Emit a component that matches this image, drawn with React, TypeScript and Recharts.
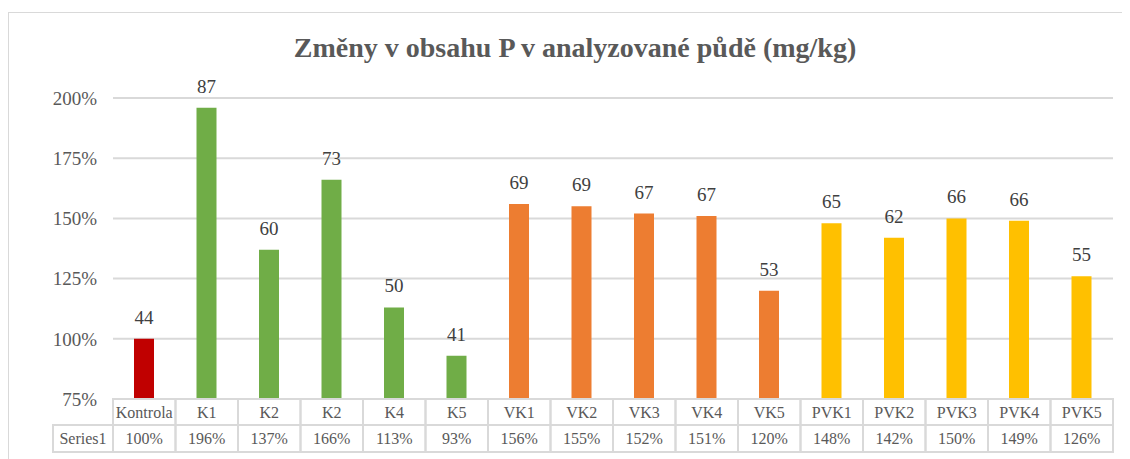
import { BarChart, Bar, XAxis, YAxis, CartesianGrid, Cell, LabelList } from 'recharts';

const categories = ['Kontrola', 'K1', 'K2', 'K2', 'K4', 'K5', 'VK1', 'VK2', 'VK3', 'VK4', 'VK5', 'PVK1', 'PVK2', 'PVK3', 'PVK4', 'PVK5'];
// relative change vs. control (%), shown in the table row
const percents = [100, 196, 137, 166, 113, 93, 156, 155, 152, 151, 120, 148, 142, 150, 149, 126];
// P content in mg/kg, shown above the bars
const mgkg = [44, 87, 60, 73, 50, 41, 69, 69, 67, 67, 53, 65, 62, 66, 66, 55];
const yTicks = [75, 100, 125, 150, 175, 200];

const data = categories.map((name, i) => ({ name, pct: percents[i], mg: mgkg[i] }));

const FONT = '"Liberation Serif", "Times New Roman", serif';
const GRID = '#d9d9d9';
const TEXT = '#595959';

const colorFor = (name: string) => {
  if (name === 'Kontrola') return '#c00000';
  if (name.startsWith('PVK')) return '#ffc000';
  if (name.startsWith('VK')) return '#ed7d31';
  return '#70ad47';
};

// table geometry (chart coords)
const PLOT_BOTTOM = 386;
const COL_W = 1000 / categories.length;
const ROW1 = 26;
const ROW2 = 27;
const HEAD_W = 60;

const TableTick = (props: any) => {
  const { x, payload } = props;
  const i = payload.index;
  const left = x - COL_W / 2;
  return (
    <g>
      {i === 0 && (
        <g>
          <rect x={left - HEAD_W} y={PLOT_BOTTOM + ROW1} width={HEAD_W} height={ROW2} fill="none" stroke={GRID} strokeWidth={2} />
          <text x={left - HEAD_W / 2} y={PLOT_BOTTOM + ROW1 + 19} textAnchor="middle" fontSize={16} fill={TEXT} fontFamily={FONT}>
            Series1
          </text>
        </g>
      )}
      <rect x={left} y={PLOT_BOTTOM} width={COL_W} height={ROW1} fill="none" stroke={GRID} strokeWidth={2} />
      <text x={x} y={PLOT_BOTTOM + 19} textAnchor="middle" fontSize={16} fill={TEXT} fontFamily={FONT}>
        {payload.value}
      </text>
      <rect x={left} y={PLOT_BOTTOM + ROW1} width={COL_W} height={ROW2} fill="none" stroke={GRID} strokeWidth={2} />
      <text x={x} y={PLOT_BOTTOM + ROW1 + 19} textAnchor="middle" fontSize={16} fill={TEXT} fontFamily={FONT}>
        {`${percents[i]}%`}
      </text>
    </g>
  );
};

export default function App() {
  return (
    <div
      style={{
        position: 'relative',
        top: 4,
        width: 1134,
        height: 460,
        border: `1px solid ${GRID}`,
        boxSizing: 'border-box',
        background: '#fff',
      }}
    >
      <div
        style={{
          position: 'absolute',
          left: 0,
          top: 21,
          width: '100%',
          textAlign: 'center',
          fontFamily: FONT,
          fontWeight: 'bold',
          fontSize: 28,
          lineHeight: '28px',
          color: TEXT,
        }}
      >
        Změny v obsahu P v analyzované půdě (mg/kg)
      </div>
      <BarChart width={1122} height={446} data={data} margin={{ top: 85, right: 18, bottom: 5, left: 44 }}>
        <CartesianGrid vertical={false} stroke={GRID} strokeWidth={2} />
        <XAxis
          dataKey="name"
          interval={0}
          height={55}
          axisLine={false}
          tickLine={false}
          tick={<TableTick />}
        />
        <YAxis
          width={60}
          domain={[75, 200]}
          ticks={yTicks}
          allowDataOverflow
          axisLine={false}
          tickLine={false}
          tickMargin={10}
          tickFormatter={(v: number) => `${v}%`}
          tick={{ fill: TEXT, fontSize: 19, fontFamily: FONT }}
        />
        <Bar dataKey="pct" barSize={20} isAnimationActive={false}>
          {data.map((d, i) => (
            <Cell key={i} fill={colorFor(d.name)} />
          ))}
          <LabelList dataKey="mg" position="top" offset={15} fill="#404040" fontSize={19} fontFamily={FONT} />
        </Bar>
      </BarChart>
    </div>
  );
}
